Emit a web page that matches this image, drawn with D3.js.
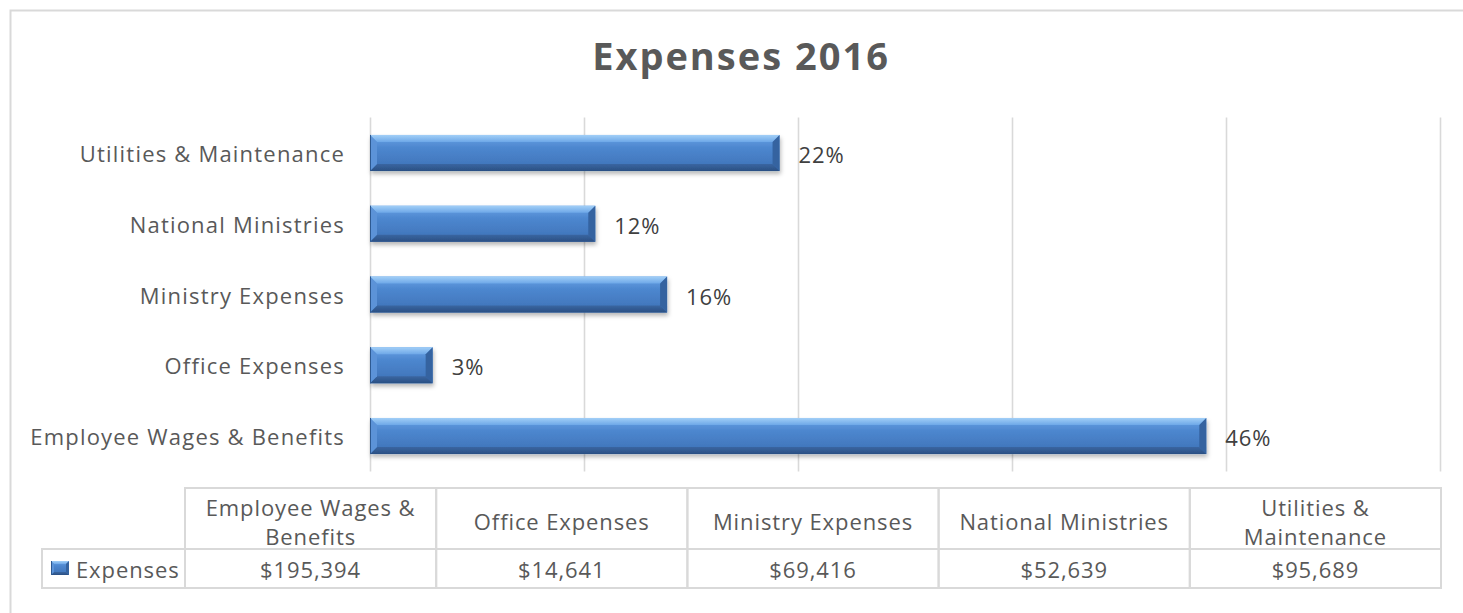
<!DOCTYPE html>
<html>
<head>
<meta charset="utf-8">
<title>Expenses 2016</title>
<script src="https://cdn.jsdelivr.net/npm/d3@7"></script>
<style>
  html, body { margin: 0; padding: 0; background: #ffffff; }
  svg { display: block; }
  text { font-family: "Open Sans", "Noto Sans", sans-serif; }
</style>
</head>
<body>
<div id="chart"></div>
<script>
// Expense categories, in the order used by the data table (left to right)
const categories = [
  "Employee Wages & Benefits",
  "Office Expenses",
  "Ministry Expenses",
  "National Ministries",
  "Utilities & Maintenance"
];
// Yearly amounts in dollars
const expenses = [195394, 14641, 69416, 52639, 95689];
// Value axis: gridlines every 50,000 up to 250,000
const gridTicks = [0, 50000, 100000, 150000, 200000, 250000];
const seriesName = "Expenses";
const chartTitle = "Expenses 2016";

const W = 1463, H = 613;
const plot = { left: 370, right: 1440, top: 117.6, bottom: 471.4 };
const table = { left: 185, right: 1441, top: 488, mid: 549, bottom: 588, labelLeft: 42 };

const total = d3.sum(expenses);
const rows = categories.map((c, i) => ({ cat: c, value: expenses[i], share: expenses[i] / total }));

const svg = d3.select("#chart").append("svg")
  .attr("width", W).attr("height", H);

const defs = svg.append("defs");

// Bar body gradient and bevel gradients
const body = defs.append("linearGradient").attr("id", "barBody")
  .attr("x1", 0).attr("y1", 0).attr("x2", 0).attr("y2", 1);
[["0%", "#6aa3e6"], ["35%", "#4d87cf"], ["100%", "#3d71b6"]]
  .forEach(([o, c]) => body.append("stop").attr("offset", o).attr("stop-color", c));

const topBevel = defs.append("linearGradient").attr("id", "barTop")
  .attr("x1", 0).attr("y1", 0).attr("x2", 0).attr("y2", 1);
[["0%", "#a2cff7"], ["100%", "#6ea8e8"]]
  .forEach(([o, c]) => topBevel.append("stop").attr("offset", o).attr("stop-color", c));

const botBevel = defs.append("linearGradient").attr("id", "barBottom")
  .attr("x1", 0).attr("y1", 0).attr("x2", 0).attr("y2", 1);
[["0%", "#3a66a1"], ["100%", "#2a4f83"]]
  .forEach(([o, c]) => botBevel.append("stop").attr("offset", o).attr("stop-color", c));

const shadow = defs.append("filter").attr("id", "barShadow")
  .attr("x", "-5%").attr("y", "-30%").attr("width", "115%").attr("height", "180%");
shadow.append("feDropShadow")
  .attr("dx", 1).attr("dy", 3).attr("stdDeviation", 2)
  .attr("flood-color", "#000").attr("flood-opacity", 0.28);

// Outer chart frame
svg.append("rect")
  .attr("x", 10.5).attr("y", 10.5)
  .attr("width", W + 20).attr("height", H + 20)
  .attr("fill", "none").attr("stroke", "#d9d9d9").attr("stroke-width", 2);

// Title
svg.append("text")
  .attr("x", 741).attr("y", 70)
  .attr("text-anchor", "middle")
  .attr("font-size", 38).attr("font-weight", 700)
  .attr("letter-spacing", 2)
  .attr("fill", "#595959")
  .text(chartTitle);

// Scales
const x = d3.scaleLinear()
  .domain([gridTicks[0], gridTicks[gridTicks.length - 1]])
  .range([plot.left, plot.right]);

const y = d3.scaleBand()
  .domain(categories.slice().reverse())
  .range([plot.top, plot.bottom])
  .paddingInner(0.49)
  .paddingOuter(0.245);

// Vertical gridlines
svg.append("g").selectAll("line")
  .data(gridTicks)
  .join("line")
  .attr("x1", d => Math.round(x(d)) + 0.5)
  .attr("x2", d => Math.round(x(d)) + 0.5)
  .attr("y1", plot.top)
  .attr("y2", plot.bottom)
  .attr("stroke", "#d9d9d9")
  .attr("stroke-width", 1.6);

// Category axis (labels only)
const yAxis = svg.append("g")
  .attr("transform", `translate(${plot.left},0)`)
  .call(d3.axisLeft(y).tickSize(0).tickPadding(25));
yAxis.select(".domain").remove();
yAxis.selectAll("text")
  .attr("font-family", "\"Open Sans\", sans-serif")
  .attr("font-size", 22)
  .attr("letter-spacing", 1.2)
  .attr("fill", "#595959")
  .attr("dy", "0.41em");

// Beveled bar drawing
function bevelBar(g, x0, x1, y0, h, b) {
  const y1 = y0 + h;
  const bb = Math.min(b, (x1 - x0) / 2);
  g.append("rect").attr("x", x0).attr("y", y0)
    .attr("width", x1 - x0).attr("height", h)
    .attr("fill", "url(#barBody)");
  g.append("polygon")
    .attr("points", [[x0, y0], [x1, y0], [x1 - bb, y0 + b], [x0 + bb, y0 + b]].join(" "))
    .attr("fill", "url(#barTop)");
  g.append("polygon")
    .attr("points", [[x0, y1], [x1, y1], [x1 - bb, y1 - b], [x0 + bb, y1 - b]].join(" "))
    .attr("fill", "url(#barBottom)");
  g.append("polygon")
    .attr("points", [[x1, y0], [x1, y1], [x1 - bb, y1 - b], [x1 - bb, y0 + b]].join(" "))
    .attr("fill", "#3463a0");
  g.append("polygon")
    .attr("points", [[x0, y0], [x0, y1], [x0 + bb, y1 - b], [x0 + bb, y0 + b]].join(" "))
    .attr("fill", "#5b93d8");
  g.append("line")
    .attr("x1", x0 + 0.5).attr("x2", x0 + 0.5).attr("y1", y0).attr("y2", y1)
    .attr("stroke", "#2f5a92").attr("stroke-width", 1);
}

const bars = svg.append("g").selectAll("g")
  .data(rows)
  .join("g")
  .attr("filter", "url(#barShadow)");
bars.each(function (d) {
  bevelBar(d3.select(this), x(0), x(d.value), y(d.cat), y.bandwidth(), 7);
});

// Share-of-total labels
svg.append("g").selectAll("text")
  .data(rows)
  .join("text")
  .attr("x", d => x(d.value) + 19)
  .attr("y", d => y(d.cat) + y.bandwidth() / 2 + 10)
  .attr("font-size", 22)
  .attr("letter-spacing", 0.9)
  .attr("fill", "#404040")
  .text(d => d3.format(".0%")(d.share));

// Data table below the plot
const col = d3.scaleBand().domain(categories).range([table.left, table.right]);
const tg = svg.append("g");
const gridStroke = { stroke: "#d9d9d9", width: 2 };

// header + value cells
categories.forEach(c => {
  tg.append("rect")
    .attr("x", col(c)).attr("y", table.top)
    .attr("width", col.bandwidth()).attr("height", table.mid - table.top)
    .attr("fill", "none").attr("stroke", gridStroke.stroke).attr("stroke-width", gridStroke.width);
  tg.append("rect")
    .attr("x", col(c)).attr("y", table.mid)
    .attr("width", col.bandwidth()).attr("height", table.bottom - table.mid)
    .attr("fill", "none").attr("stroke", gridStroke.stroke).attr("stroke-width", gridStroke.width);
});
// series label cell
tg.append("rect")
  .attr("x", table.labelLeft).attr("y", table.mid)
  .attr("width", table.left - table.labelLeft).attr("height", table.bottom - table.mid)
  .attr("fill", "none").attr("stroke", gridStroke.stroke).attr("stroke-width", gridStroke.width);

// wrapped header text
const maxLine = col.bandwidth() - 24;
categories.forEach(c => {
  const cx = col(c) + col.bandwidth() / 2;
  const t = tg.append("text")
    .attr("text-anchor", "middle")
    .attr("font-size", 22)
    .attr("letter-spacing", 0.9)
    .attr("fill", "#595959");
  const words = c.split(" ");
  const lines = [];
  let cur = [];
  const probe = t.append("tspan");
  words.forEach(w => {
    const attempt = cur.concat([w]).join(" ");
    probe.text(attempt);
    if (cur.length && probe.node().getComputedTextLength() > maxLine) {
      lines.push(cur.join(" "));
      cur = [w];
    } else {
      cur.push(w);
    }
  });
  lines.push(cur.join(" "));
  probe.remove();
  const lh = 29;
  const base = 530 - (lines.length - 1) * lh / 2;
  lines.forEach((ln, i) => {
    t.append("tspan").attr("x", cx).attr("y", base + i * lh).text(ln);
  });
});

// values row
rows.forEach(d => {
  tg.append("text")
    .attr("x", col(d.cat) + col.bandwidth() / 2)
    .attr("y", 578)
    .attr("text-anchor", "middle")
    .attr("font-size", 22)
    .attr("letter-spacing", 0.9)
    .attr("fill", "#595959")
    .text(d3.format("$,")(d.value));
});

// legend key + series name
const key = tg.append("g");
bevelBar(key, 51, 69, 561, 14, 3);
tg.append("text")
  .attr("x", 76).attr("y", 578)
  .attr("font-size", 22)
  .attr("letter-spacing", 0.9)
  .attr("fill", "#595959")
  .text(seriesName);
</script>
</body>
</html>
